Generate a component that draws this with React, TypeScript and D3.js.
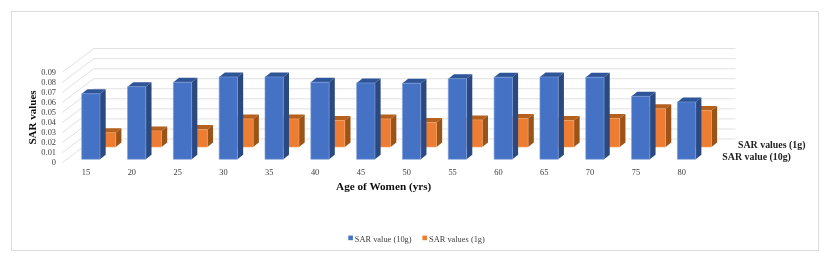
import React from "react";
import * as d3 from "d3";

const ages = ["15", "20", "25", "30", "35", "40", "45", "50", "55", "60", "65", "70", "75", "80"];
const sar10g = [0.0653, 0.0723, 0.0767, 0.082, 0.082, 0.0767, 0.076, 0.0757, 0.0803, 0.0817, 0.082, 0.0817, 0.0627, 0.057];
const sar1g = [0.0143, 0.016, 0.0173, 0.028, 0.028, 0.0263, 0.028, 0.0243, 0.027, 0.0283, 0.0263, 0.0283, 0.038, 0.0363];
const yTicks = [0, 0.01, 0.02, 0.03, 0.04, 0.05, 0.06, 0.07, 0.08, 0.09];

const serif = "'Liberation Serif', serif";
const blue = { front: "#4472c4", side: "#2b4a80", top: "#2f5597", edge: "#7f9fdc" };
const orange = { front: "#ed7d31", side: "#9c5219", top: "#b5601f", edge: "#f4a56c" };

// how far the back wall sits from the front of the box
const wallDx = 31.3;
const wallDy = -23.6;
const floorY = 162.6;
const barDx = 5.7;
const barDy = -4.5;

const App = () => {
  const h = d3.scaleLinear().domain([0, 0.09]).range([0, 90.4]);
  const x = d3.scalePoint().domain(ages).range([81.7, 677.4]);

  const bar = (d: number, age: string, shiftX: number, baseY: number, c: typeof blue) => {
    const x0 = (x(age) as number) + shiftX;
    const w = 18.3;
    const top = baseY - h(d);
    const front = `M${x0},${baseY}V${top}H${x0 + w}V${baseY}Z`;
    const side = `M${x0 + w},${baseY}V${top}l${barDx},${barDy}V${baseY + barDy}Z`;
    const cap = `M${x0},${top}l${barDx},${barDy}H${x0 + w + barDx}L${x0 + w},${top}Z`;
    return (
      <g key={age}>
        <path d={cap} fill={c.top} />
        <path d={side} fill={c.side} />
        <path d={front} fill={c.front} stroke={c.edge} strokeWidth={0.6} />
      </g>
    );
  };

  return (
    <svg
      width={830}
      height={263}
      style={{ position: "absolute", left: 0, top: 0, background: "#fff" }}
      fontFamily={serif}
    >
      <defs>
        <filter id="soft" x="-5%" y="-5%" width="110%" height="110%">
          <feGaussianBlur stdDeviation={0.35} />
        </filter>
      </defs>
      <g filter="url(#soft)">
        <rect x={11.5} y={11.5} width={807} height={239} fill="#fff" stroke="#dcdcdc" strokeWidth={1} />

        {/* wall */}
        {yTicks.map((t) => {
          const y = floorY - h(t);
          return (
            <g key={t} stroke="#e1e1e1" strokeWidth={1} fill="none">
              <path d={`M62.5,${y}l${wallDx},${wallDy}H735.5`} />
            </g>
          );
        })}

        {yTicks.map((t) => (
          <text key={t} x={56} y={floorY - h(t) + 2.8} textAnchor="end" fontSize={8.4} fill="#404040">
            {t}
          </text>
        ))}

        {/* the 1g row stands behind the 10g row */}
        {sar1g.map((d, i) => bar(d, ages[i], 15.7, 147, orange))}
        {sar10g.map((d, i) => bar(d, ages[i], 0, 159.3, blue))}

        {ages.map((a) => (
          <text key={a} x={(x(a) as number) + 4.3} y={175.4} textAnchor="middle" fontSize={8.4} fill="#404040">
            {a}
          </text>
        ))}

        <text
          transform="translate(35.5,117.5) rotate(-90)"
          textAnchor="middle"
          fontSize={11}
          fontWeight="bold"
          fill="#111"
        >
          SAR values
        </text>
        <text x={383.7} y={190.3} textAnchor="middle" fontSize={11.2} fontWeight="bold" fill="#111">
          Age of Women (yrs)
        </text>

        <text x={738} y={148} fontSize={9.9} fontWeight="bold" fill="#222">
          SAR values (1g)
        </text>
        <text x={722.3} y={160.2} fontSize={9.9} fontWeight="bold" fill="#222">
          SAR value (10g)
        </text>

        <rect x={348.3} y={235.6} width={4.6} height={4.6} fill={blue.front} />
        <text x={354.8} y={241.6} fontSize={8.4} fill="#404040">
          SAR value (10g)
        </text>
        <rect x={422.4} y={235.6} width={4.6} height={4.6} fill={orange.front} />
        <text x={429} y={241.6} fontSize={8.4} fill="#404040">
          SAR values (1g)
        </text>
      </g>
    </svg>
  );
};

export default App;
